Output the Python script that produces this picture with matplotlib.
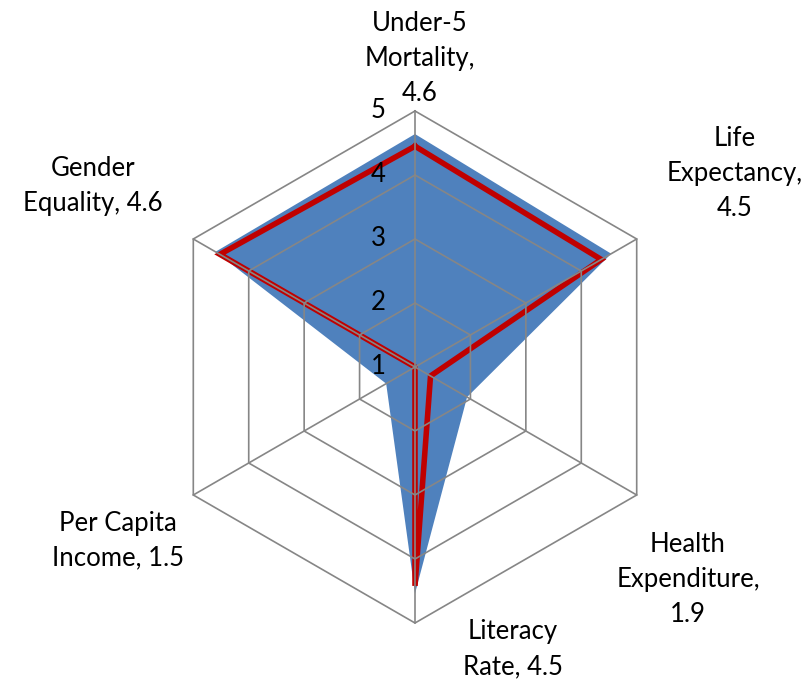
import numpy as np
import matplotlib
matplotlib.use("Agg")
import matplotlib.pyplot as plt

categories = ["Under-5\nMortality", "Life\nExpectancy", "Health\nExpenditure",
              "Literacy\nRate", "Per Capita\nIncome", "Gender\nEquality"]
series_blue = [4.64, 4.54, 1.94, 4.54, 1.52, 4.60]
series_red = [4.45, 4.36, 1.28, 4.42, 1.00, 4.52]
ring_values = [1, 2, 3, 4, 5]

R_MIN = 1.0
BLUE = "#4F81BD"
RED = "#C00000"
GRID = "#868686"

W, H, DPI = 812, 682, 100
fig = plt.figure(figsize=(W / DPI, H / DPI), dpi=DPI)
ax = fig.add_axes([0, 0, 1, 1])
ax.set_axis_off()

cx, cy, unit = 415.0, 367.0, 64.0
ax.set_xlim(-cx / unit, (W - cx) / unit)
ax.set_ylim(-(H - cy) / unit, cy / unit)

n = len(categories)
angles = np.deg2rad(90 - 60 * np.arange(n))


def to_xy(vals):
    r = np.asarray(vals, dtype=float) - R_MIN
    x = r * np.cos(angles)
    y = r * np.sin(angles)
    return np.append(x, x[0]), np.append(y, y[0])


# blue filled series
bx, by = to_xy(series_blue)
ax.fill(bx, by, color=BLUE, lw=0, zorder=1)

# red line series
rx, ry = to_xy(series_red)
ax.plot(rx, ry, color=RED, lw=4.0, solid_joinstyle="miter", zorder=2)

# grid rings
for v in ring_values[1:]:
    gx, gy = to_xy([v] * n)
    ax.plot(gx, gy, color=GRID, lw=1.2, zorder=3)
# spokes
rmax = max(ring_values) - R_MIN
for a in angles:
    ax.plot([0, rmax * np.cos(a)], [0, rmax * np.sin(a)], color=GRID, lw=1.2, zorder=3)

font = "Lato"
fs = 18.5
# radial tick labels
for v in ring_values:
    ax.text(-37 / unit, v - R_MIN, str(v), ha="center", va="center",
            fontsize=fs, family=font, zorder=4)

# data labels (positions in pixels), one text per line
label_pos = [(420, 56), (735, 171), (688, 577), (513, 647), (118, 538), (93, 183)]
line_gap = 35
for cat, val, (px, py) in zip(categories, series_blue, label_pos):
    parts = cat.split("\n")
    if cat.startswith(("Under-5", "Life", "Health")):
        lines = [parts[0], parts[1] + ",", f"{val:.1f}"]
    else:
        lines = [parts[0], f"{parts[1]}, {val:.1f}"]
    k = len(lines)
    for i, s in enumerate(lines):
        yy = py + (i - (k - 1) / 2) * line_gap
        fig.text(px / W, 1 - yy / H, s, ha="center", va="center_baseline",
                 fontsize=fs, family=font)

fig.savefig("out.png", dpi=DPI)
